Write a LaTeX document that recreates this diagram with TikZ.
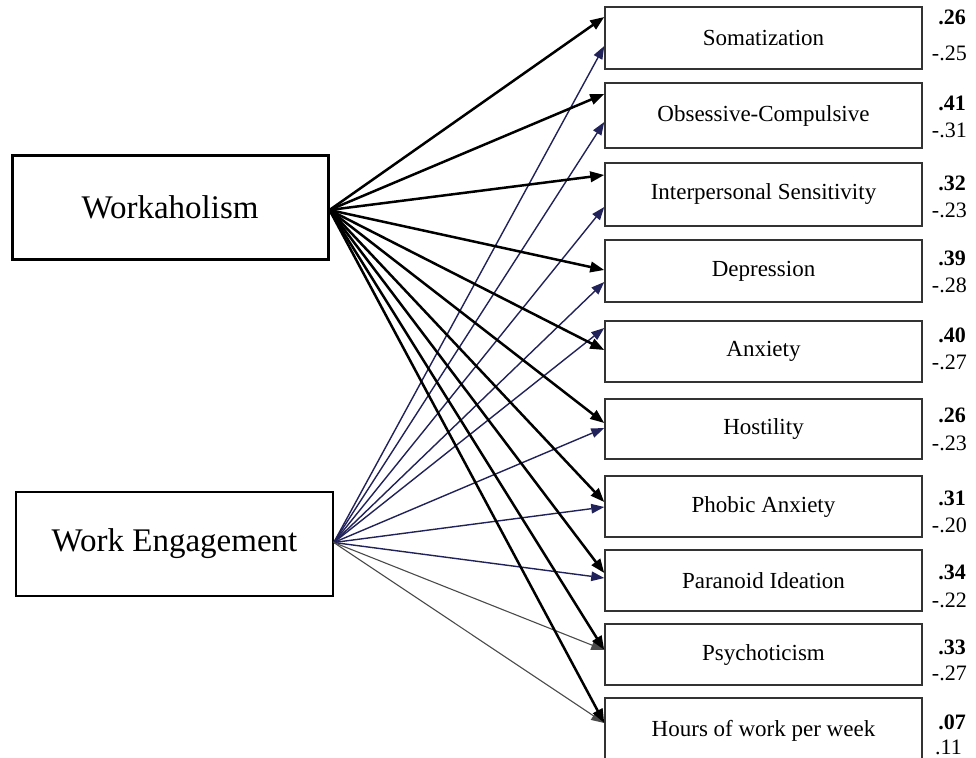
\documentclass[tikz,border=0pt]{standalone}
\usepackage{fontspec}
\setmainfont{Liberation Serif}
\usetikzlibrary{arrows.meta}
\definecolor{navyline}{HTML}{22225A}
\definecolor{boxline}{HTML}{333333}
\definecolor{grayline}{HTML}{4A4A4A}
\tikzset{
  outbox/.style={draw=boxline, line width=1.5pt, minimum width=317pt, inner sep=0pt,
    font=\fontsize{23}{27}\selectfont},
  leftbox/.style={draw=black, minimum width=316pt, minimum height=104pt, inner sep=0pt,
    font=\fontsize{33}{38}\selectfont},
  coef/.style={anchor=east, inner sep=0pt, font=\fontsize{22}{26}\selectfont},
  coefb/.style={coef, font=\fontsize{22}{26}\selectfont\bfseries},
  warrow/.style={draw=black, line width=2.5pt, -{Triangle[length=14pt,width=10.5pt]}},
  earrow/.style={draw=navyline, line width=1.4pt, -{Triangle[length=13pt,width=9.5pt]}},
  garrow/.style={draw=grayline, line width=1.1pt, -{Triangle[length=13pt,width=9.5pt]}},
}
\begin{document}
\begin{tikzpicture}[x=1pt,y=-1pt]
\useasboundingbox (0,0) rectangle (976,757);
% left boxes
\node[leftbox, line width=3pt] (w) at (170,207) {Workaholism};
\node[leftbox, line width=1.5pt, minimum width=317pt] (e) at (174.5,544) {Work Engagement};
\coordinate (ws) at ([yshift=-3pt]w.east);
\coordinate (es) at ([yshift=1.5pt]e.east);
% right boxes
\node[outbox, minimum height=62pt] (s1) at (763.5,38) {Somatization};
\node[outbox, minimum height=65pt] (s2) at (763.5,115.5) {Obsessive-Compulsive};
\node[outbox, minimum height=63pt] (s3) at (763.5,194.5) {Interpersonal Sensitivity};
\node[outbox, minimum height=62pt] (s4) at (763.5,271) {Depression};
\node[outbox, minimum height=61pt] (s5) at (763.5,351.5) {Anxiety};
\node[outbox, minimum height=60pt] (s6) at (763.5,429) {Hostility};
\node[outbox, minimum height=61pt] (s7) at (763.5,506.5) {Phobic Anxiety};
\node[outbox, minimum height=61pt] (s8) at (763.5,580.5) {Paranoid Ideation};
\node[outbox, minimum height=61pt] (s9) at (763.5,654.5) {Psychoticism};
\node[outbox, minimum height=62pt, text depth=0pt] (s10) at (763.5,729) {\raisebox{2pt}{Hours of work per week}};
% coefficients
\node[coefb] (b1) at (966,17) {.26};   \node[coef] (c1) at (967,53) {-.25};
\node[coefb] (b2) at (966,103) {.41};  \node[coef] (c2) at (967,130) {-.31};
\node[coefb] (b3) at (966,183) {.32};  \node[coef] (c3) at (967,210) {-.23};
\node[coefb] (b4) at (966,258) {.39};  \node[coef] (c4) at (967,285) {-.28};
\node[coefb] (b5) at (966,335) {.40};  \node[coef] (c5) at (967,362) {-.27};
\node[coefb] (b6) at (966,415) {.26};  \node[coef] (c6) at (967,443) {-.23};
\node[coefb] (b7) at (966,498) {.31};  \node[coef] (c7) at (967,525) {-.20};
\node[coefb] (b8) at (966,572) {.34};  \node[coef] (c8) at (967,600) {-.22};
\node[coefb] (b9) at (966,647) {.33};  \node[coef] (c9) at (967,673) {-.27};
\node[coefb] (b10) at (966,722) {.07}; \node[coef] (c10) at (962,747) {.11};
% Work Engagement arrows
\draw[earrow] (es) -- ([yshift=-8pt]s1.west);
\draw[earrow] (es) -- ([yshift=-6.5pt]s2.west);
\draw[earrow] (es) -- ([yshift=-12.5pt]s3.west);
\draw[earrow] (es) -- ([yshift=-11pt]s4.west);
\draw[earrow] (es) -- ([yshift=23.5pt]s5.west);
\draw[earrow] (es) -- ([yshift=1pt]s6.west);
\draw[earrow] (es) -- ([yshift=-0.5pt]s7.west);
\draw[earrow] (es) -- ([yshift=2.5pt]s8.west);
\draw[garrow] (es) -- ([yshift=4.5pt]s9.west);
\draw[garrow] (es) -- ([yshift=6pt]s10.west);
% Workaholism arrows
\draw[warrow] (ws) -- ([yshift=21pt]s1.west);
\draw[warrow] (ws) -- ([yshift=21.5pt]s2.west);
\draw[warrow] (ws) -- ([yshift=19.5pt]s3.west);
\draw[warrow] (ws) -- ([yshift=1pt]s4.west);
\draw[warrow] (ws) -- ([yshift=1.5pt]s5.west);
\draw[warrow] (ws) -- ([yshift=6pt]s6.west);
\draw[warrow] (ws) -- ([yshift=4.5pt]s7.west);
\draw[warrow] (ws) -- ([yshift=7.5pt]s8.west);
\draw[warrow] (ws) -- ([yshift=4.5pt]s9.west);
\draw[warrow] (ws) -- ([yshift=6pt]s10.west);
\end{tikzpicture}
\end{document}
